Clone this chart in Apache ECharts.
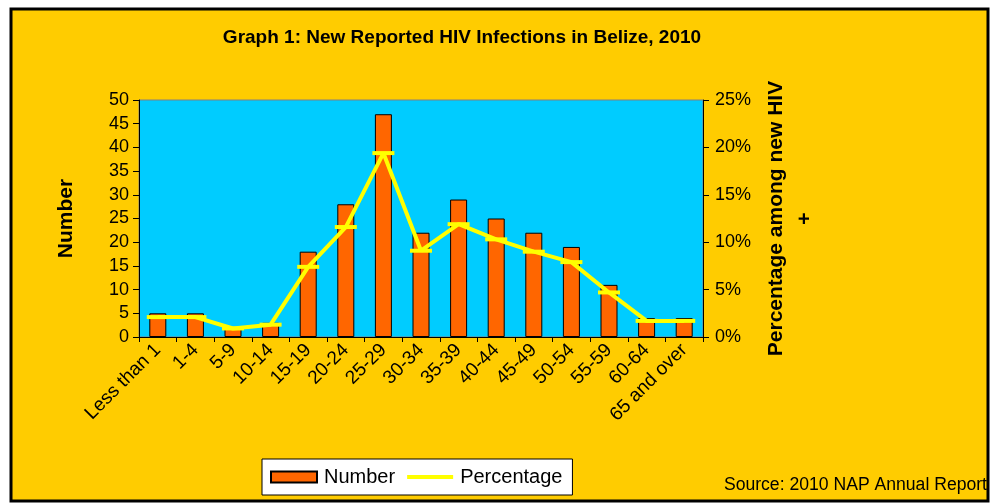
<!DOCTYPE html>
<html>
<head>
<meta charset="utf-8">
<script src="https://cdn.jsdelivr.net/npm/echarts@6/dist/echarts.min.js"></script>
<style>
html,body{margin:0;padding:0;background:#ffffff;}
#chart{width:990px;height:504px;}
</style>
</head>
<body>
<div id="chart"></div>
<script>
var categories = ['Less than 1','1-4','5-9','10-14','15-19','20-24','25-29','30-34','35-39','40-44','45-49','50-54','55-59','60-64','65 and over'];
var numberValues = [5, 5, 2, 3, 18, 28, 47, 22, 29, 25, 22, 19, 11, 4, 4];
var percentValues = [2.1, 2.1, 0.9, 1.3, 7.4, 11.6, 19.4, 9.1, 11.9, 10.3, 9.0, 7.9, 4.7, 1.7, 1.7];
var leftTicks = {min: 0, max: 50, interval: 5};
var rightTicks = {min: 0, max: 25, interval: 5};

var FONT = '"Liberation Sans", Arial, sans-serif';
var chart = echarts.init(document.getElementById('chart'), null, {renderer: 'canvas'});
var option = {
  backgroundColor: '#ffffff',
  animation: false,
  textStyle: {fontFamily: FONT, color: '#000'},
  graphic: [
    {type: 'rect', z: -10, shape: {x: 11, y: 9, width: 977, height: 492},
     style: {fill: '#FFCC00', stroke: '#000', lineWidth: 3}},
    {type: 'text', z: 10, x: 462, y: 38,
     style: {text: 'Graph 1: New Reported HIV Infections in Belize, 2010', font: 'bold 19px ' + FONT,
             fill: '#000', textAlign: 'center', textVerticalAlign: 'middle'}},
    {type: 'text', z: 10, x: 987, y: 494,
     style: {text: 'Source: 2010 NAP Annual Report', font: '17.6px ' + FONT,
             fill: '#000', textAlign: 'right', textVerticalAlign: 'bottom'}}
  ],
  grid: {left: 139, right: 287, top: 100, bottom: 167, show: true,
         backgroundColor: '#00CCFF', borderColor: '#808080', borderWidth: 1},
  legend: {
    left: 262, top: 459,
    backgroundColor: '#ffffff', borderColor: '#000', borderWidth: 1,
    padding: [8, 10, 8, 8],
    itemGap: 12, itemWidth: 46, itemHeight: 11,
    textStyle: {fontSize: 20, fontFamily: FONT, color: '#000', padding: [0,0,0,2]},
    data: [
      {name: 'Number', icon: 'rect'},
      {name: 'Percentage', icon: 'path://M0,0H46V4H0Z'}
    ]
  },
  xAxis: {
    type: 'category', data: categories, boundaryGap: true,
    axisLine: {lineStyle: {color: '#000', width: 1}},
    axisTick: {show: true, length: 5, lineStyle: {color: '#000'}},
    axisLabel: {interval: 0, rotate: 45, fontSize: 19, color: '#000', fontFamily: FONT, margin: 10}
  },
  yAxis: [
    {type: 'value', min: leftTicks.min, max: leftTicks.max, interval: leftTicks.interval,
     name: 'Number', nameLocation: 'middle', nameGap: 62, nameRotate: 90,
     nameTextStyle: {fontSize: 21, fontWeight: 'bold', color: '#000', fontFamily: FONT},
     axisLine: {show: true, lineStyle: {color: '#000'}},
     axisTick: {show: true, length: 6, lineStyle: {color: '#000'}},
     axisLabel: {fontSize: 18, color: '#000', margin: 10, fontFamily: FONT},
     splitLine: {show: false}},
    {type: 'value', min: rightTicks.min, max: rightTicks.max, interval: rightTicks.interval, position: 'right',
     name: 'Percentage among new HIV\n+', nameLocation: 'middle', nameGap: 58, nameRotate: 90,
     nameTextStyle: {fontSize: 21, fontWeight: 'bold', color: '#000', fontFamily: FONT, lineHeight: 29},
     axisLine: {show: true, lineStyle: {color: '#000'}},
     axisTick: {show: true, length: 6, lineStyle: {color: '#000'}},
     axisLabel: {fontSize: 18, color: '#000', margin: 12, fontFamily: FONT, formatter: '{value}%'},
     splitLine: {show: false}}
  ],
  series: [
    {name: 'Number', type: 'bar', yAxisIndex: 0, data: numberValues, barWidth: 17,
     itemStyle: {color: '#FF6600', borderColor: '#000', borderWidth: 1}},
    {name: 'Percentage', type: 'line', yAxisIndex: 1, data: percentValues, z: 5,
     lineStyle: {color: '#FFFF00', width: 4}, itemStyle: {color: '#FFFF00', borderWidth: 0},
     symbol: 'rect', symbolSize: [22, 4], showSymbol: true}
  ]
};
chart.setOption(option);
</script>
</body>
</html>
